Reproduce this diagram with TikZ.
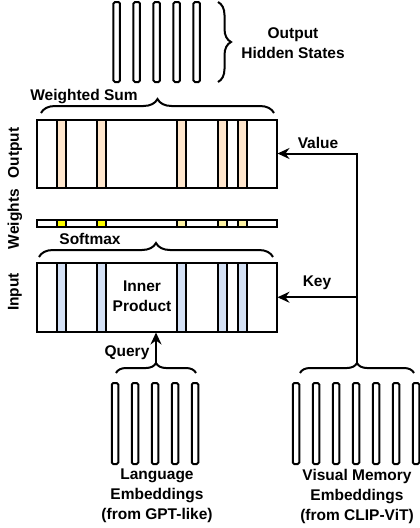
\documentclass[tikz,border=0pt]{standalone}
\usepackage{fontspec}
\setmainfont{Liberation Sans}
\usetikzlibrary{arrows.meta,decorations.pathreplacing}
\definecolor{peach}{HTML}{FFE6CC}
\definecolor{paleblue}{HTML}{D4E1F5}
\definecolor{hotyellow}{HTML}{FFFF00}
\definecolor{paleyellow}{HTML}{FFF4A6}
\tikzset{
    txt/.style={font=\fontsize{15.5}{20}\selectfont\bfseries, align=center, inner sep=0pt},
    curly/.style={decorate, decoration={brace, amplitude=#1}, line width=2pt},
}
\begin{document}
\begin{tikzpicture}[x=1pt, y=-1pt]
    \useasboundingbox (0,0) rectangle (420,528);
    % embedding bars
    \begin{scope}
        \tikzstyle{every node}=[draw=black, line width=2pt, rounded corners=1.5pt, inner sep=0pt, minimum width=6.5pt]
        \foreach \i/\x in {1/116.7,2/136.7,3/156.7,4/176.7,5/196.7}
            \node[minimum height=80pt] (hid\i) at (\x,42) {};
        \foreach \i/\x in {1/115,2/135,3/155,4/175,5/195}
            \node[minimum height=81pt] (lang\i) at (\x,423.5) {};
        \foreach \i/\x in {1/296,2/316,3/336,4/356,5/376,6/396,7/416}
            \node[minimum height=81pt] (vis\i) at (\x,423.5) {};
    \end{scope}
    % attention blocks
    \begin{scope}
        \tikzstyle{every node}=[draw=black, line width=2pt, inner sep=0pt, minimum width=9pt]
        \foreach \i/\x in {1/61,2/101.3,3/181.7,4/222.2,5/242}
            \node[fill=peach, minimum height=68pt] (os\i) at (\x,153.5) {};
        \foreach \i/\x in {1/61,2/101.3}
            \node[fill=hotyellow, minimum height=7pt] (ws\i) at (\x,223) {};
        \foreach \i/\x in {3/181.7,4/222.2,5/242}
            \node[fill=paleyellow, minimum height=7pt] (ws\i) at (\x,223) {};
        \foreach \i/\x in {1/61,2/101.3,3/181.7,4/222.2,5/242}
            \node[fill=paleblue, minimum height=68.5pt] (is\i) at (\x,297.25) {};
        \node[minimum width=240pt, minimum height=68pt] (outblk) at (156.5,153.5) {};
        \node[minimum width=240pt, minimum height=7pt] (wgtblk) at (156.5,223) {};
        \node[minimum width=240pt, minimum height=68.5pt] (inblk) at (156.5,297.25) {};
    \end{scope}
    % braces
    \draw[curly=13pt] (218,2) -- (218,82);
    \draw[curly=14pt] (41,113) -- (274,113);
    \draw[curly=14pt] (39,257) -- (273,257);
    \draw[curly=10pt] (116,373) -- (196,373);
    \draw[curly=10pt] (300,373) -- (414,373);
    \coordinate (langtip) at (156,363);
    \coordinate (vistip) at (357,363);
    % labels
    \node[txt] (hidlbl) at (293,43) {Output\\Hidden States};
    \node[txt] (sumlbl) at (84,97) {Weighted Sum};
    \node[txt] (smxlbl) at (90,239) {Softmax};
    \node[txt] (iplbl) at (142,296) {Inner\\Product};
    \node[txt] (vallbl) at (318,143) {Value};
    \node[txt] (keylbl) at (317,283) {Key};
    \node[txt] (qrylbl) at (127,353) {Query};
    \node[txt] (langlbl) at (157,496) {Language\\Embeddings\\(from GPT-like)};
    \node[txt] (vislbl) at (357,496) {Visual Memory\\Embeddings\\(from CLIP-ViT)};
    \node[txt, rotate=90] (outlbl) at (15,153) {Output};
    \node[txt, rotate=90] (wgtlbl) at (15,219) {Weights};
    \node[txt, rotate=90] (inlbl) at (15,292) {Input};
    % connectors
    \begin{scope}
        \tikzstyle{every edge}=[draw, line width=2pt, -{Stealth[length=12pt, width=11pt, inset=4pt]}]
        \path
        (langtip) edge (langtip |- inblk.south)
        (vistip |- inblk.east) edge (inblk.east);
        \draw[line width=2pt, -{Stealth[length=12pt, width=11pt, inset=4pt]}] (vistip) |- (outblk.east);
    \end{scope}
\end{tikzpicture}
\end{document}
